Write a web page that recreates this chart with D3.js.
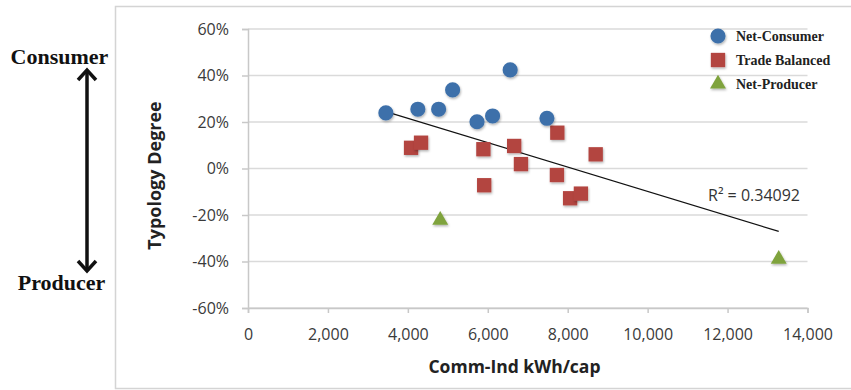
<!DOCTYPE html>
<html>
<head>
<meta charset="utf-8">
<script src="https://cdn.jsdelivr.net/npm/d3@7"></script>
<style>
  body { margin: 0; background: #fff; }
  svg { display: block; }
</style>
</head>
<body>
<div id="chart"></div>
<script>
// data (x = kWh/cap, y = typology degree)
const consumerX = [3450, 4250, 4770, 5120, 6560, 5730, 6120, 7480];
const consumerY = [0.239, 0.255, 0.255, 0.338, 0.424, 0.201, 0.226, 0.216];
const balancedX = [4080, 4330, 5890, 5910, 6660, 6830, 7740, 7730, 8700, 8060, 8330];
const balancedY = [0.089, 0.111, 0.083, -0.072, 0.097, 0.019, 0.154, -0.028, 0.061, -0.128, -0.108];
const producerX = [4810, 13280];
const producerY = [-0.222, -0.390];
const seriesNames = ["Net-Consumer", "Trade Balanced", "Net-Producer"];
const xTicks = [0, 2000, 4000, 6000, 8000, 10000, 12000, 14000];
const xTickLabels = ["0", "2,000", "4,000", "6,000", "8,000", "10,000", "12,000", "14,000"];
const yTicks = [-0.6, -0.4, -0.2, 0, 0.2, 0.4, 0.6];
const yTickLabels = ["-60%", "-40%", "-20%", "0%", "20%", "40%", "60%"];
const r2Label = "R\u00B2 = 0.34092";

const width = 851;
const height = 390;
const plot = {left: 248, right: 807.5, top: 29, bottom: 308};
const colors = {consumer: "#3d70aa", balanced: "#b3443f", producer: "#7fa33d"};
const sans = "'Open Sans', sans-serif";
const serif = "'Liberation Serif', 'Times New Roman', serif";

const svg = d3.select("#chart")
              .append("svg")
              .attr("width", width)
              .attr("height", height);

svg.append("rect").attr("width", width).attr("height", height).attr("fill", "#fff");

const defs = svg.append("defs");
defs.append("filter").attr("id", "shadow")
    .attr("x", "-50%").attr("y", "-50%").attr("width", "200%").attr("height", "200%")
    .append("feDropShadow")
    .attr("dx", 0.8).attr("dy", 1.5).attr("stdDeviation", 1)
    .attr("flood-color", "#000").attr("flood-opacity", 0.3);

// chart frame
svg.append("rect")
   .attr("x", 115.5).attr("y", 6.5)
   .attr("width", 760).attr("height", 382)
   .attr("fill", "none")
   .attr("stroke", "#d4d4d4")
   .attr("stroke-width", 1.5);

const x = d3.scaleLinear().domain([0, 14000]).range([plot.left, plot.right]);
const y = d3.scaleLinear().domain([-0.6, 0.6]).range([plot.bottom, plot.top]);

// gridlines
svg.append("g").selectAll("line").data(yTicks).enter()
   .append("line")
   .attr("x1", plot.left).attr("x2", plot.right)
   .attr("y1", d => y(d)).attr("y2", d => y(d))
   .attr("stroke", "#dadada")
   .attr("stroke-width", 1.5);

// y axis
const yAxis = svg.append("g")
   .attr("transform", `translate(${plot.left},0)`)
   .call(d3.axisLeft(y).tickValues(yTicks).tickSize(6).tickPadding(13)
           .tickFormat((d, i) => yTickLabels[i]));
yAxis.select(".domain").attr("stroke", "#c8c8c8").attr("stroke-width", 1.5);
yAxis.selectAll(".tick line").attr("stroke", "#c8c8c8").attr("stroke-width", 1.5);
yAxis.selectAll(".tick text")
     .attr("font-family", sans).attr("font-size", "16px").attr("fill", "#3a3a3a");

// x axis
const xAxis = svg.append("g")
   .attr("transform", `translate(0,${plot.bottom})`)
   .call(d3.axisBottom(x).tickValues(xTicks).tickSize(5).tickPadding(16)
           .tickFormat((d, i) => xTickLabels[i]));
xAxis.select(".domain").attr("stroke", "#c8c8c8").attr("stroke-width", 1.5);
xAxis.selectAll(".tick line").attr("stroke", "#c8c8c8").attr("stroke-width", 1.5);
xAxis.selectAll(".tick text")
     .attr("font-family", sans).attr("font-size", "16px").attr("fill", "#3a3a3a");

// axis titles
svg.append("text")
   .attr("x", 514.5).attr("y", 373)
   .attr("text-anchor", "middle")
   .attr("font-family", sans).attr("font-size", "17.5px").attr("font-weight", "bold")
   .attr("fill", "#222")
   .text("Comm-Ind kWh/cap");

svg.append("text")
   .attr("transform", "translate(161,175.5) rotate(-90)")
   .attr("text-anchor", "middle")
   .attr("font-family", sans).attr("font-size", "18px").attr("font-weight", "bold")
   .attr("fill", "#222")
   .text("Typology Degree");

// linear trendline over all points
const allX = consumerX.concat(balancedX, producerX);
const allY = consumerY.concat(balancedY, producerY);
const mx = d3.mean(allX), my = d3.mean(allY);
const slope = d3.sum(allX, (v, i) => (v - mx) * (allY[i] - my)) / d3.sum(allX, v => (v - mx) * (v - mx));
const icpt = my - slope * mx;
const trendX = d3.extent(allX);
svg.append("line")
   .attr("x1", x(trendX[0])).attr("y1", y(icpt + slope * trendX[0]))
   .attr("x2", x(trendX[1])).attr("y2", y(icpt + slope * trendX[1]))
   .attr("stroke", "#111")
   .attr("stroke-width", 1.2);

// markers
const circleSym = d3.symbol().type(d3.symbolCircle).size(180);
const squareSym = d3.symbol().type(d3.symbolSquare).size(205);
const triSym = d3.symbol().type(d3.symbolTriangle).size(110);

svg.append("g").selectAll("path").data(balancedX).enter()
   .append("path")
   .attr("d", squareSym)
   .attr("transform", (d, i) => `translate(${x(d)},${y(balancedY[i])})`)
   .attr("fill", colors.balanced)
   .attr("filter", "url(#shadow)");

svg.append("g").selectAll("path").data(consumerX).enter()
   .append("path")
   .attr("d", circleSym)
   .attr("transform", (d, i) => `translate(${x(d)},${y(consumerY[i])})`)
   .attr("fill", colors.consumer)
   .attr("filter", "url(#shadow)");

svg.append("g").selectAll("path").data(producerX).enter()
   .append("path")
   .attr("d", triSym)
   .attr("transform", (d, i) => `translate(${x(d)},${y(producerY[i])})`)
   .attr("fill", colors.producer)
   .attr("filter", "url(#shadow)");

// R squared label
svg.append("text")
   .attr("x", 708).attr("y", 201)
   .attr("font-family", sans).attr("font-size", "16px")
   .attr("fill", "#333")
   .text(r2Label);

// legend
const legendSyms = [circleSym, squareSym, triSym];
const legendColors = [colors.consumer, colors.balanced, colors.producer];
const legend = svg.append("g").selectAll("g").data(seriesNames).enter()
   .append("g")
   .attr("transform", (d, i) => `translate(718,${36 + i * 24})`);
legend.append("path")
   .attr("d", (d, i) => legendSyms[i]())
   .attr("fill", (d, i) => legendColors[i])
   .attr("filter", "url(#shadow)");
legend.append("text")
   .attr("x", 18).attr("y", 5)
   .attr("font-family", serif).attr("font-size", "14px").attr("font-weight", "bold")
   .attr("fill", "#222")
   .text(d => d);

// consumer / producer arrow on the left
const arrowX = 87;
svg.append("line")
   .attr("x1", arrowX).attr("x2", arrowX)
   .attr("y1", 71).attr("y2", 270)
   .attr("stroke", "#111").attr("stroke-width", 3.5);
svg.append("path")
   .attr("d", `M${arrowX - 9},${80} L${arrowX},${70} L${arrowX + 9},${80}`)
   .attr("fill", "none").attr("stroke", "#111").attr("stroke-width", 3.5)
   .attr("stroke-linejoin", "miter");
svg.append("path")
   .attr("d", `M${arrowX - 9},${261} L${arrowX},${271} L${arrowX + 9},${261}`)
   .attr("fill", "none").attr("stroke", "#111").attr("stroke-width", 3.5)
   .attr("stroke-linejoin", "miter");

svg.append("text")
   .attr("x", 59.5).attr("y", 64)
   .attr("text-anchor", "middle")
   .attr("font-family", serif).attr("font-size", "22px").attr("font-weight", "bold")
   .attr("fill", "#111")
   .text("Consumer");
svg.append("text")
   .attr("x", 61.5).attr("y", 290)
   .attr("text-anchor", "middle")
   .attr("font-family", serif).attr("font-size", "22px").attr("font-weight", "bold")
   .attr("fill", "#111")
   .text("Producer");
</script>
</body>
</html>
